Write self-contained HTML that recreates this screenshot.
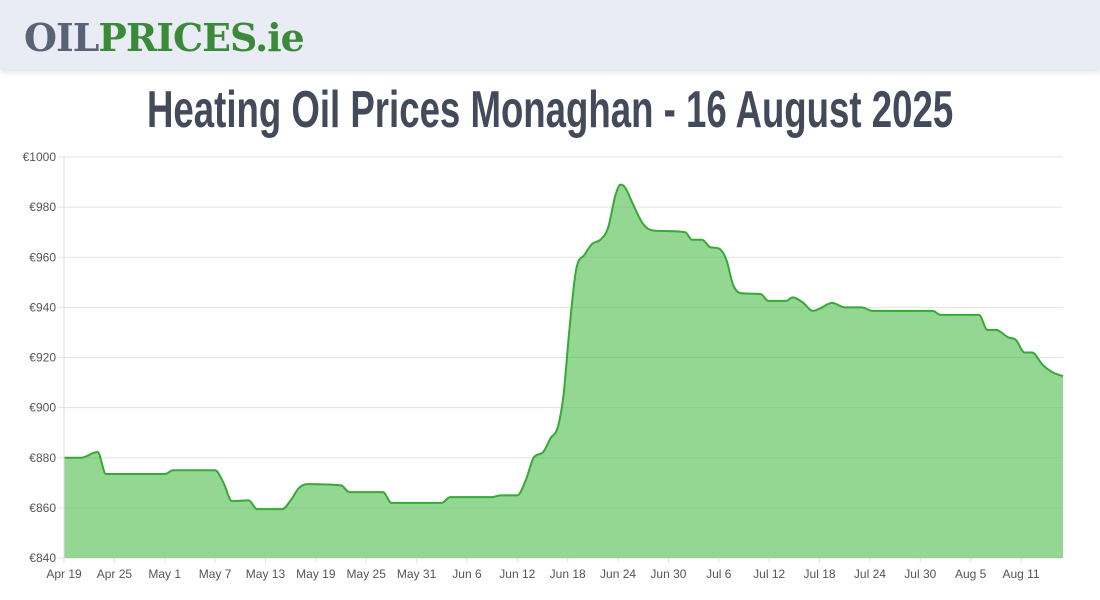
<!DOCTYPE html>
<html><head><meta charset="utf-8"><style>
body{margin:0;width:1100px;height:600px;background:#fff;overflow:hidden;font-family:"Liberation Sans",sans-serif}
#hdr{position:absolute;left:0;top:0;width:1100px;height:70px;background:#e9ecf4;box-shadow:0 2px 5px rgba(0,0,0,.12)}
#logo{position:absolute;left:24px;top:15px;font:bold 38px "DejaVu Serif","Liberation Serif",serif;letter-spacing:-1px;color:#5a6375;transform-origin:left top;white-space:nowrap;display:inline-block}
#logo span{color:#3a8a3a}
#title{position:absolute;left:147px;top:80px;font:bold 52px "Liberation Sans",sans-serif;color:#434a5a;transform-origin:left top;white-space:nowrap;display:inline-block}
</style></head><body>
<div id="hdr"><div id="logo">OIL<span>PRICES.ie</span></div></div>
<div id="title">Heating Oil Prices Monaghan - 16 August 2025</div>
<svg id="chart" width="1100" height="600" style="position:absolute;left:0;top:0"></svg>
<script>
const days=[0,2,4,5,7,12,13,18,19,20,22,23,26,27,28,29,33,34,38,39,45,46,51,52,54,55,56,57,58,58.8,59.5,60.2,61,62,62.9,63.9,64.8,65.7,66.3,66.8,67.8,68.9,69.8,71,74,74.8,76,77,78,78.9,79.7,80.6,83,83.9,86,86.8,88,89.2,90,91.5,93,95,96.3,103.5,104.4,109,110,111,112.5,113.4,114.4,115.3,116.6,117.8,119];
const prices=[880,880,882.3,873.5,873.5,873.5,875,875,870,862.7,863,859.5,859.5,863,868,869.5,869,866.3,866.3,862,862,864.3,864.3,865,865,871,880.3,882,888,892,905,931,955,961,965.3,967,971.7,984.9,989,988,981,973.7,971,970.5,970,967,967,964,963.5,959,949,945.7,945.3,942.6,942.6,944,942,938.6,939.5,941.8,940,940,938.6,938.6,937,937,931,931,928,927,922,922,917,914,912.6];
const yTicks=[840,860,880,900,920,940,960,980,1000];
const xTickLabels=["Apr 19","Apr 25","May 1","May 7","May 13","May 19","May 25","May 31","Jun 6","Jun 12","Jun 18","Jun 24","Jun 30","Jul 6","Jul 12","Jul 18","Jul 24","Jul 30","Aug 5","Aug 11"];
function fit(id,w){const e=document.getElementById(id);const s=w/e.offsetWidth;e.style.transform='scaleX('+s+')';}
fit('logo',280);fit('title',806);
const X0=64,X1=1063,Y0=558,Y1=157;
const xs=d=>X0+d/119*(X1-X0);
const ys=v=>Y0-(v-840)/160*(Y0-Y1);
const svg=document.getElementById('chart');const NS='http://www.w3.org/2000/svg';
function mk(t,a){const e=document.createElementNS(NS,t);for(const k in a)e.setAttribute(k,a[k]);svg.appendChild(e);return e;}
yTicks.forEach(v=>{const l=mk('line',{x1:X0-6,x2:X1,y1:ys(v),y2:ys(v),stroke:'#e3e3e3','stroke-width':1});


const t=mk('text',{x:X0-8,y:ys(v)+4,'text-anchor':'end','font-size':12,fill:'#555','font-family':'Liberation Sans'});t.textContent='€'+v;

});
xTickLabels.forEach((s,i)=>{const x=xs(i*6);const l=mk('line',{x1:x,x2:x,y1:Y0,y2:Y0+5,stroke:'#e3e3e3','stroke-width':1});


const t=mk('text',{x:x,y:Y0+20,'text-anchor':'middle','font-size':12,fill:'#555','font-family':'Liberation Sans'});t.textContent=s;

});
const P=days.map((d,i)=>[xs(d),ys(prices[i])]);const n=P.length;
const dl=[],m=[];for(let i=0;i<n-1;i++)dl.push((P[i+1][1]-P[i][1])/(P[i+1][0]-P[i][0]));
for(let i=0;i<n;i++){if(i==0)m.push(dl[0]);else if(i==n-1)m.push(dl[n-2]);else m.push(dl[i-1]*dl[i]<=0?0:(dl[i-1]+dl[i])/2);}
for(let i=0;i<n-1;i++){if(dl[i]==0){m[i]=0;m[i+1]=0;continue;}const a=m[i]/dl[i],b=m[i+1]/dl[i],h=a*a+b*b;if(h>9){const t=3/Math.sqrt(h);m[i]=t*a*dl[i];m[i+1]=t*b*dl[i];}}
let d='M'+P[0][0]+','+P[0][1];
for(let i=0;i<n-1;i++){const h=(P[i+1][0]-P[i][0])/3;d+=`C${P[i][0]+h},${P[i][1]+m[i]*h} ${P[i+1][0]-h},${P[i+1][1]-m[i+1]*h} ${P[i+1][0]},${P[i+1][1]}`;}
const area=mk('path',{d:d+`L${P[n-1][0]},${Y0}L${P[0][0]},${Y0}Z`,fill:'rgba(80,190,80,0.62)'});


const line=mk('path',{d:d,fill:'none',stroke:'#36a936','stroke-width':2});


mk('line',{x1:X0,x2:X0,y1:Y1,y2:Y0,stroke:'#ddd'});
</script>
</body></html>
